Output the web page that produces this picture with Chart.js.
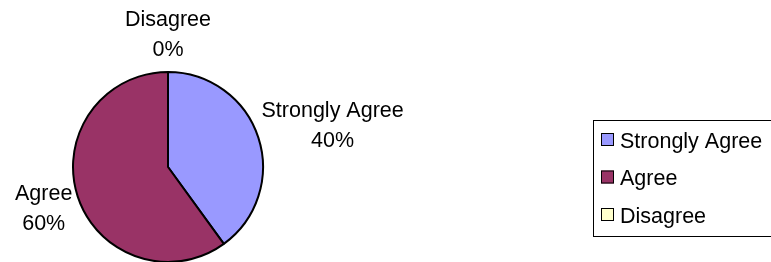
<!DOCTYPE html>
<html>
<head>
<meta charset="utf-8">
<script src="https://cdn.jsdelivr.net/npm/chart.js@4.4.0/dist/chart.umd.min.js"></script>
<style>
html, body { margin: 0; padding: 0; background: #fff; }
canvas { display: block; }
</style>
</head>
<body>
<canvas id="pie_chart" width="771" height="262"></canvas>
<script>
var labels = ['Strongly Agree', 'Agree', 'Disagree'];
var percents = [40, 60, 0];
var colors = ['#9999FF', '#993366', '#FFFFCC'];

var FONT = '21.5px "Liberation Sans", Arial, sans-serif';

// labels sitting outside each slice, name on top and percent under it
var outsideLabels = {
    id: 'outsideLabels',
    afterDatasetsDraw: function(chart) {
        var ctx = chart.ctx;
        var meta = chart.getDatasetMeta(0);
        var values = chart.data.datasets[0].data;
        var total = 0;
        for (var k = 0; k < values.length; k++) total += values[k];
        ctx.save();
        ctx.font = FONT;
        ctx.fillStyle = '#000';
        ctx.textAlign = 'center';
        for (var i = 0; i < meta.data.length; i++) {
            var arc = meta.data[i];
            var mid = (arc.startAngle + arc.endAngle) / 2;
            var dx = Math.cos(mid), dy = Math.sin(mid);
            var r = arc.outerRadius + 7;
            var px = arc.x + dx * r, py = arc.y + dy * r;
            var lines = [chart.data.labels[i], Math.round(values[i] / total * 100) + '%'];
            var w = Math.max(ctx.measureText(lines[0]).width, ctx.measureText(lines[1]).width);
            var h = 62;
            var cx = px + dx * w / 2, cy = py + dy * h / 2;
            ctx.fillText(lines[0], cx, cy - 15 + 6.5);
            ctx.fillText(lines[1], cx, cy + 15 + 6.5);
        }
        ctx.restore();
    }
};

// boxed legend on the right
var boxLegend = {
    id: 'boxLegend',
    afterDraw: function(chart) {
        var ctx = chart.ctx;
        var ds = chart.data.datasets[0];
        ctx.save();
        ctx.lineWidth = 1;
        ctx.strokeStyle = '#000';
        ctx.strokeRect(593.5, 120.5, 200, 116);
        ctx.font = FONT;
        ctx.textAlign = 'left';
        for (var i = 0; i < chart.data.labels.length; i++) {
            var y = 140 + i * 37.5;
            ctx.fillStyle = ds.backgroundColor[i];
            ctx.fillRect(601, y - 7, 13, 13);
            ctx.strokeRect(601.5, y - 6.5, 12, 12);
            ctx.fillStyle = '#000';
            ctx.fillText(chart.data.labels[i], 620, y + 7.5);
        }
        ctx.restore();
    }
};

var ctx = document.getElementById('pie_chart').getContext('2d');
var chart = new Chart(ctx, {
    type: 'pie',
    data: {
        labels: labels,
        datasets: [{
            data: percents,
            backgroundColor: colors,
            borderColor: '#000',
            borderWidth: 2
        }]
    },
    options: {
        responsive: false,
        animation: false,
        radius: 95,
        layout: {
            padding: { left: 73, top: 72, right: 508, bottom: 0 }
        },
        plugins: {
            legend: { display: false },
            tooltip: { enabled: false }
        }
    },
    plugins: [outsideLabels, boxLegend]
});
</script>
</body>
</html>
